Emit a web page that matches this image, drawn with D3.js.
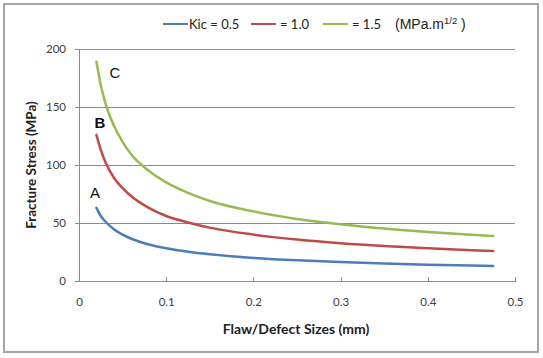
<!DOCTYPE html>
<html><head><meta charset="utf-8">
<script src="https://cdn.jsdelivr.net/npm/d3@7"></script>
<style>body{margin:0;background:#fff}svg{display:block}</style>
</head><body>
<svg id="c" width="543" height="358"></svg>
<script>
const flawSizes = [0.02, 0.025, 0.03, 0.04, 0.05, 0.06, 0.08, 0.1, 0.125, 0.15, 0.2, 0.25, 0.3, 0.35, 0.4, 0.45, 0.475];
const seriesA = [63, 56, 51.5, 44.6, 39.9, 36.4, 31.5, 28.2, 25.2, 23, 19.9, 17.8, 16.3, 15.1, 14.1, 13.3, 12.9];
const seriesB = [126, 113, 103, 89, 80, 73, 63, 56, 50.5, 46, 40, 35.7, 32.5, 30.1, 28.2, 26.6, 25.9];
const seriesC = [189, 169, 154, 134, 120, 109, 95, 85, 76, 69, 60, 53.5, 49, 45.2, 42.3, 39.8, 38.8];
const seriesNames = ["Kic = 0.5", "= 1.0", "= 1.5"];
const curveLabels = ["A", "B", "C"];
const xTicks = [0, 0.1, 0.2, 0.3, 0.4, 0.5];
const yTicks = [0, 50, 100, 150, 200];
const colors = ["#4a7ebb", "#be4b48", "#98b954"];

const svg = d3.select("#c");
svg.append("rect").attr("x",4).attr("y",4).attr("width",534).attr("height",348)
  .attr("fill","#fff").attr("stroke","#a6a6a6").attr("stroke-width",2);

const x = d3.scaleLinear().domain([0,0.5]).range([79,515]);
const y = d3.scaleLinear().domain([0,200]).range([281,49]);
const font = "Lato, 'Liberation Sans', sans-serif";

// gridlines
svg.append("g").selectAll("line").data(yTicks.filter(d=>d>0)).join("line")
  .attr("x1",x(0)).attr("x2",x(0.5)).attr("y1",d=>y(d)).attr("y2",d=>y(d))
  .attr("stroke","#8c8c8c").attr("stroke-width",1).attr("shape-rendering","crispEdges");

// axes
const yAxis = svg.append("g").attr("transform",`translate(${x(0)},0)`)
  .call(d3.axisLeft(y).tickValues(yTicks).tickSize(4).tickPadding(9).tickFormat(d3.format("d")));
const xAxis = svg.append("g").attr("transform",`translate(0,${y(0)})`)
  .call(d3.axisBottom(x).tickValues(xTicks).tickSizeInner(-4).tickSizeOuter(0).tickPadding(17).tickFormat(d=>d===0?"0":d3.format(".1f")(d)));
[yAxis,xAxis].forEach(a=>{
  a.select(".domain").attr("stroke","#8c8c8c").attr("shape-rendering","crispEdges");
  a.selectAll(".tick line").attr("stroke","#8c8c8c").attr("shape-rendering","crispEdges");
  a.selectAll("text").attr("fill","#404040").attr("font-family",font).attr("font-size",11.5);
});

// curves
const line = d3.line().x((d,i)=>x(flawSizes[i])).y(d=>y(d)).curve(d3.curveMonotoneX);
[seriesA,seriesB,seriesC].forEach((s,k)=>{
  svg.append("path").attr("d",line(s)).attr("fill","none")
    .attr("stroke",colors[k]).attr("stroke-width",2.5).attr("stroke-linecap","round");
});

// curve labels
const labelPos = [[95,198],[100,128],[115,78]];
curveLabels.forEach((t,i)=>{
  svg.append("text").attr("x",labelPos[i][0]).attr("y",labelPos[i][1]).attr("text-anchor","middle")
    .attr("font-family","'Liberation Sans', Arial, sans-serif").attr("font-size",15)
    .attr("font-weight", i===1 ? "bold" : "normal").attr("fill","#111").text(t);
});

// legend
const lg = svg.append("g").attr("font-family",font).attr("font-size",13).attr("fill","#222");
const legX = [163, 251, 323];
seriesNames.forEach((n,i)=>{
  lg.append("line").attr("x1",legX[i]).attr("x2",legX[i]+25).attr("y1",24).attr("y2",24)
    .attr("stroke",colors[i]).attr("stroke-width",2);
  lg.append("text").attr("x",legX[i]+(i===0?26:29)).attr("y",28.5).text(n);
});
const unit = lg.append("text").attr("x",395).attr("y",29).attr("font-family","'Liberation Sans', Arial, sans-serif").attr("font-size",14);
unit.append("tspan").text("(MPa.m");
unit.append("tspan").attr("dy",-5).attr("font-size",9.5).text("1/2");
unit.append("tspan").attr("dy",5).text(" )");

// axis titles
svg.append("text").attr("x",296).attr("y",334).attr("text-anchor","middle")
  .attr("font-family",font).attr("font-weight","bold").attr("font-size",14).attr("fill","#222")
  .text("Flaw/Defect Sizes (mm)");
svg.append("text").attr("transform","translate(36,165) rotate(-90)").attr("text-anchor","middle")
  .attr("font-family",font).attr("font-weight","bold").attr("font-size",13.5).attr("fill","#222")
  .text("Fracture Stress (MPa)");
</script>
</body></html>
